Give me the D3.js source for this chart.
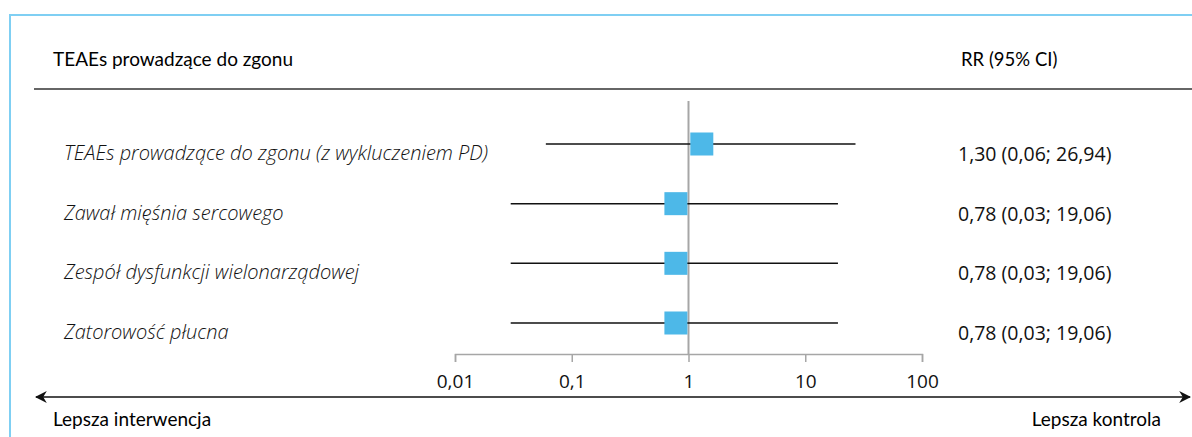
<!DOCTYPE html>
<html>
<head>
<meta charset="utf-8">
<script src="https://cdn.jsdelivr.net/npm/d3@7"></script>
<style>
  html, body { margin: 0; padding: 0; background: #fff; }
  svg { display: block; }
</style>
</head>
<body>
<div id="chart"></div>
<script>
var labels = [
  'TEAEs prowadzące do zgonu (z wykluczeniem PD)',
  'Zawał mięśnia sercowego',
  'Zespół dysfunkcji wielonarządowej',
  'Zatorowość płucna'
];
var rr = [1.30, 0.78, 0.78, 0.78];
var ciLow = [0.06, 0.03, 0.03, 0.03];
var ciHigh = [26.94, 19.06, 19.06, 19.06];
var ticks = [0.01, 0.1, 1, 10, 100];
var tickLabels = ['0,01', '0,1', '1', '10', '100'];

var W = 1192, H = 437;
var fmt = function (v) { return d3.format('.2f')(v).replace('.', ','); };

var svg = d3.select('#chart').append('svg')
  .attr('width', W)
  .attr('height', H);

// frame
svg.append('rect')
  .attr('x', 10).attr('y', 15)
  .attr('width', W).attr('height', H)
  .attr('fill', 'none')
  .attr('stroke', '#7fcff3')
  .attr('stroke-width', 2);

var xScale = d3.scaleLog().domain([0.01, 100]).range([455, 922]);
var yScale = d3.scalePoint().domain(d3.range(labels.length)).range([144, 323]);

// header
svg.append('text')
  .attr('x', 53).attr('y', 66)
  .attr('font-family', 'Lato')
  .attr('font-size', 19)
  .text('TEAEs prowadzące do zgonu');

svg.append('text')
  .attr('x', 961).attr('y', 66)
  .attr('font-family', 'Lato')
  .attr('font-size', 18.5)
  .text('RR (95% CI)');

svg.append('line')
  .attr('x1', 34).attr('x2', W)
  .attr('y1', 89).attr('y2', 89)
  .attr('stroke', '#333')
  .attr('stroke-width', 1.5);

// axis
var xAxis = d3.axisBottom(xScale)
  .tickValues(ticks)
  .tickFormat(function (d, i) { return tickLabels[i]; })
  .tickSize(8)
  .tickPadding(13);

var gx = svg.append('g')
  .attr('class', 'xaxis')
  .attr('transform', 'translate(0,354)')
  .call(xAxis);
gx.select('.domain').attr('stroke', '#a6a6a6').attr('stroke-width', 1.5);
gx.selectAll('.tick line').attr('stroke', '#a6a6a6').attr('stroke-width', 1.5);
gx.selectAll('.tick text')
  .attr('font-family', 'Open Sans')
  .attr('font-size', 19)
  .attr('fill', '#111');

// reference line at 1
svg.append('line')
  .attr('x1', xScale(1)).attr('x2', xScale(1))
  .attr('y1', 101).attr('y2', 354)
  .attr('stroke', '#a6a6a6')
  .attr('stroke-width', 2);

var rows = svg.append('g').selectAll('g')
  .data(labels)
  .join('g');

rows.append('line')
  .attr('x1', function (d, i) { return xScale(ciLow[i]); })
  .attr('x2', function (d, i) { return xScale(ciHigh[i]); })
  .attr('y1', function (d, i) { return yScale(i); })
  .attr('y2', function (d, i) { return yScale(i); })
  .attr('stroke', '#111')
  .attr('stroke-width', 1.5);

var sq = 23;
rows.append('rect')
  .attr('x', function (d, i) { return xScale(rr[i]) - sq / 2; })
  .attr('y', function (d, i) { return yScale(i) - sq / 2; })
  .attr('width', sq).attr('height', sq)
  .attr('fill', '#4db8e8');

rows.append('text')
  .attr('x', 64)
  .attr('y', function (d, i) { return yScale(i) + 16; })
  .attr('font-family', 'Open Sans')
  .attr('font-style', 'italic')
  .attr('font-weight', 300)
  .attr('font-size', 20)
  .attr('fill', '#111')
  .text(function (d) { return d; });

rows.append('text')
  .attr('x', 958)
  .attr('y', function (d, i) { return yScale(i) + 17; })
  .attr('font-family', 'Open Sans')
  .attr('font-size', 19.5)
  .attr('fill', '#111')
  .text(function (d, i) { return fmt(rr[i]) + ' (' + fmt(ciLow[i]) + '; ' + fmt(ciHigh[i]) + ')'; });

// bottom arrow
var defs = svg.append('defs');
defs.append('marker')
  .attr('id', 'arr')
  .attr('viewBox', '0 0 10 10')
  .attr('refX', 9).attr('refY', 5)
  .attr('markerWidth', 12).attr('markerHeight', 12)
  .attr('markerUnits', 'userSpaceOnUse')
  .attr('orient', 'auto-start-reverse')
  .append('path')
  .attr('d', 'M0,0 L10,5 L0,10 L3,5 Z')
  .attr('fill', '#111');

svg.append('line')
  .attr('x1', 36).attr('x2', 1190)
  .attr('y1', 397).attr('y2', 397)
  .attr('stroke', '#111')
  .attr('stroke-width', 1.5)
  .attr('marker-start', 'url(#arr)')
  .attr('marker-end', 'url(#arr)');

svg.append('text')
  .attr('x', 53).attr('y', 426)
  .attr('font-family', 'Lato')
  .attr('font-size', 19)
  .text('Lepsza interwencja');

svg.append('text')
  .attr('x', 1161).attr('y', 426)
  .attr('text-anchor', 'end')
  .attr('font-family', 'Lato')
  .attr('font-size', 19)
  .text('Lepsza kontrola');
</script>
</body>
</html>
